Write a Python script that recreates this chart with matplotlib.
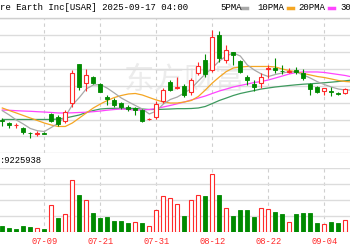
import numpy as np
import pandas as pd
import matplotlib
matplotlib.use('Agg')
import matplotlib.pyplot as plt
from matplotlib.lines import Line2D

# 交易日 (06-30 ~ 09-10)
dates = pd.bdate_range('2025-06-30', '2025-09-10', freq='C',
                       holidays=['2025-07-04', '2025-09-01'])
date_labels = list(dates.strftime('%m-%d'))

opens = [11.89, 11.56, 11.32, 11.00, 10.44, 10.33, 10.41, 12.62, 12.34, 11.83,
         13.93, 18.55, 16.30, 17.08, 16.21, 14.64, 14.32, 14.00, 13.52, 13.31,
         13.13, 12.07, 12.30, 14.20, 16.49, 15.74, 16.01, 15.23, 17.48, 19.06,
         17.87, 22.02, 19.06, 19.95, 18.94, 17.08, 16.18, 16.30, 17.96, 18.07,
         17.81, 17.64, 17.87, 17.48, 16.18, 15.89, 15.38, 15.35, 15.18, 15.11,
         15.89]
highs = [12.18, 11.75, 11.59, 11.15, 10.56, 10.64, 10.47, 12.74, 12.54, 13.13,
         17.87, 18.64, 17.99, 17.20, 16.37, 14.91, 14.52, 14.12, 13.72, 13.45,
         13.25, 12.24, 14.14, 15.74, 16.69, 17.08, 16.18, 16.92, 18.86, 19.73,
         22.61, 22.49, 20.84, 19.97, 19.06, 17.28, 16.69, 17.48, 18.47, 19.26,
         18.47, 18.07, 18.26, 17.99, 16.30, 16.01, 15.70, 15.89, 15.30, 15.77,
         16.09]
lows = [11.24, 10.96, 11.00, 10.29, 9.81, 10.09, 10.29, 11.75, 11.27, 11.59,
        13.52, 15.50, 15.38, 16.18, 15.23, 13.72, 13.52, 13.22, 13.05, 12.54,
        11.75, 11.95, 12.07, 13.96, 15.38, 15.62, 14.71, 14.91, 17.28, 17.08,
        17.67, 18.86, 18.67, 18.47, 17.48, 16.09, 15.38, 15.70, 16.96, 17.48,
        17.36, 17.48, 17.36, 16.69, 14.91, 15.11, 14.91, 14.83, 14.91, 14.99,
        15.38]
closes = [11.77, 11.35, 11.39, 10.52, 10.37, 10.41, 10.33, 11.83, 11.44, 12.86,
          17.48, 15.89, 17.28, 16.37, 15.30, 14.40, 13.72, 13.45, 13.22, 13.19,
          11.83, 12.12, 13.84, 15.50, 15.50, 15.80, 14.91, 16.69, 18.38, 17.36,
          21.78, 19.33, 20.24, 19.65, 17.67, 16.69, 15.89, 17.08, 18.15, 17.87,
          17.72, 17.71, 17.60, 16.89, 15.62, 15.23, 15.70, 15.27, 14.99, 15.62,
          15.50]

ma5 = [13.05, 12.54, 11.95, 11.47, 10.94, 10.68, 10.58, 11.06, 11.59, 12.36,
       13.72, 14.61, 15.64, 16.09, 16.15, 15.72, 15.15, 14.55, 14.10, 13.67,
       13.25, 12.66, 13.01, 13.84, 14.38, 14.67, 15.15, 15.68, 16.57, 17.40,
       18.11, 18.94, 19.53, 19.89, 19.53, 18.47, 17.87, 17.40, 17.10, 17.34,
       17.52, 17.66, 17.61, 17.28, 16.92, 16.49, 16.15, 15.86, 15.62, 15.50,
       15.50]
ma10 = [13.37, 13.07, 12.78, 12.48, 12.18, 11.89, 11.59, 11.35, 11.18, 11.18,
        11.59, 12.18, 12.78, 13.37, 13.84, 14.26, 14.61, 14.85, 15.03, 15.09,
        14.91, 14.61, 14.32, 14.08, 13.96, 13.96, 14.08, 14.26, 14.73, 15.50,
        16.33, 17.04, 17.69, 18.11, 18.23, 18.29, 18.29, 18.29, 18.29, 18.23,
        17.99, 17.81, 17.64, 17.46, 17.28, 17.10, 16.98, 16.81, 16.63, 16.51,
        16.45]
ma20 = [13.13, 13.10, 13.05, 13.01, 12.98, 12.93, 12.89, 12.84, 12.78, 12.78,
        12.80, 12.84, 12.87, 12.93, 13.01, 13.11, 13.19, 13.25, 13.19, 13.13,
        13.13, 13.19, 13.31, 13.49, 13.67, 13.87, 14.08, 14.32, 14.55, 14.79,
        15.09, 15.38, 15.62, 15.86, 16.04, 16.21, 16.39, 16.51, 16.69, 16.92,
        17.16, 17.40, 17.58, 17.64, 17.64, 17.64, 17.58, 17.46, 17.34, 17.22,
        17.04]
ma30 = [12.01, 12.01, 12.01, 12.01, 12.01, 12.01, 12.01, 12.01, 12.07, 12.18,
        12.36, 12.54, 12.84, 13.07, 13.25, 13.31, 13.33, 13.33, 13.33, 13.31,
        13.25, 13.19, 13.19, 13.22, 13.25, 13.29, 13.29, 13.31, 13.37, 13.55,
        13.90, 14.26, 14.55, 14.85, 15.09, 15.27, 15.44, 15.62, 15.74, 15.86,
        15.95, 16.04, 16.12, 16.19, 16.24, 16.30, 16.36, 16.43, 16.51, 16.59,
        16.69]

# 成交量 (百万股), 以及与前一日收盘比较的涨跌 (1 = 涨)
volume = [5.4, 3.0, 2.1, 5.4, 3.9, 3.0, 2.3, 25.5, 12.4, 16.1,
          48.9, 34.2, 30.2, 17.1, 12.4, 13.3, 9.8, 9.8, 8.3, 8.9,
          8.3, 5.4, 20.2, 33.3, 32.1, 26.4, 14.8, 29.5, 34.9, 33.6,
          54.6, 34.9, 21.8, 14.8, 20.2, 20.2, 13.3, 21.8, 21.1, 18.6,
          16.1, 8.6, 16.1, 17.1, 17.6, 8.3, 7.0, 9.2, 8.3, 10.8,
          9.8]
vol_up = [0, 0, 0, 0, 0, 1, 0, 1, 0, 1,
          1, 0, 1, 0, 0, 0, 0, 0, 0, 1,
          0, 1, 1, 1, 1, 1, 0, 1, 1, 0,
          1, 0, 1, 0, 0, 0, 0, 1, 1, 0,
          0, 1, 0, 0, 0, 0, 1, 0, 0, 1,
          0]

tick_idx = [6, 14, 22, 30, 38, 46]

RED = '#ff2a2a'
GREEN = '#008a00'
W, H = 350, 250

fig = plt.figure(figsize=(3.5, 2.5), dpi=100, facecolor='white')

def fig_box(top_px, bottom_px):
    return [0, 1 - bottom_px / H, 1, (bottom_px - top_px) / H]

ax = fig.add_axes(fig_box(18.3, 153.3))
axv = fig.add_axes(fig_box(168, 231.5))

x = np.arange(len(closes))
o, h, l, c = map(np.array, (opens, highs, lows, closes))
up = c > o
xlim = (-0.33, 49.67)

# 价格面板
ax.set_xlim(*xlim)
ax.set_ylim(8, 24)
ax.set_yticks(np.arange(8, 25, 2))
ax.set_xticks(tick_idx)
ax.grid(axis='y', color='#dcdcdc', lw=1.0)
ax.grid(axis='x', color='#cfcfcf', lw=0.8, ls=(0, (3, 3)))
ax.tick_params(left=False, labelleft=False, bottom=False, labelbottom=False)
for s in ax.spines.values():
    s.set_visible(False)

ax.text(185 / W, 1 - 80 / H, '东方财富', transform=fig.transFigure,
        family=['Noto Sans CJK SC', 'DejaVu Sans'], fontsize=22,
        color='#ececec', ha='center', va='center', zorder=0.5)

ax.plot(x, ma30, color='#3d9a5e', lw=0.9, zorder=2)
ax.plot(x, ma20, color='#ff44ff', lw=0.9, zorder=2)
ax.plot(x, ma10, color='#f5a623', lw=0.9, zorder=2)
ax.plot(x, ma5, color='#a8a8a8', lw=0.9, zorder=2)

ax.vlines(x[up], l[up], h[up], color=RED, lw=0.8, zorder=3)
ax.vlines(x[~up], l[~up], h[~up], color=GREEN, lw=0.8, zorder=3)
body_lo = np.minimum(o, c)
body_h = np.maximum(np.abs(c - o), 0.03)
ax.bar(x[up], body_h[up], bottom=body_lo[up], width=0.62,
       facecolor='white', edgecolor=RED, lw=0.8, zorder=4)
ax.bar(x[~up], body_h[~up], bottom=body_lo[~up], width=0.62,
       facecolor=GREEN, edgecolor=GREEN, lw=0.6, zorder=4)

# 成交量面板
vu = np.array(vol_up) == 1
v = np.array(volume)
axv.set_xlim(*xlim)
axv.set_ylim(0, 60)
axv.set_yticks([15, 30, 45, 60])
axv.grid(axis='y', color='#dcdcdc', lw=1.0)
axv.grid(axis='x', color='#cfcfcf', lw=0.8, ls=(0, (3, 3)))
axv.bar(x[vu], v[vu], width=0.62, facecolor='white', edgecolor=RED,
        lw=0.8, zorder=3)
axv.bar(x[~vu], v[~vu], width=0.62, facecolor=GREEN, edgecolor=GREEN,
        lw=0.6, zorder=3)
axv.set_xticks(tick_idx)
axv.set_xticklabels([date_labels[i] for i in tick_idx], color=RED,
                    family='Liberation Mono', fontsize=6.3)
axv.tick_params(left=False, labelleft=False, length=0, pad=4)
for s in axv.spines.values():
    s.set_visible(False)

# 标题与图例
fig.text(0, 1 - 8 / H, 're Earth Inc[USAR] 2025-09-17 04:00',
         family='Liberation Mono', fontsize=6.5, va='center', ha='left')
fig.text(0, 1 - 160.5 / H, ':9225938', family='Liberation Mono',
         fontsize=6.3, va='center', ha='left')
fig.add_artist(Line2D([0, 1], [1 - 18.3 / H] * 2, color='#cfcfcf', lw=1,
                      transform=fig.transFigure))

legend = [('5PMA', 220, 242, '#a8a8a8'), ('10PMA', 257, 288, '#f5a623'),
          ('20PMA', 298, 329, '#ff44ff')]
for name, tx, mx, col in legend:
    fig.text(tx / W, 1 - 8 / H, name, family='Liberation Mono',
             fontsize=6.5, va='center', ha='left')
    fig.add_artist(Line2D([mx / W, (mx + 5) / W], [1 - 8 / H] * 2, color=col,
                          lw=2.5, transform=fig.transFigure))
fig.text(340 / W, 1 - 8 / H, '30', family='Liberation Mono',
         fontsize=6.5, va='center', ha='left')

fig.savefig('out.png', dpi=100, facecolor='white')
